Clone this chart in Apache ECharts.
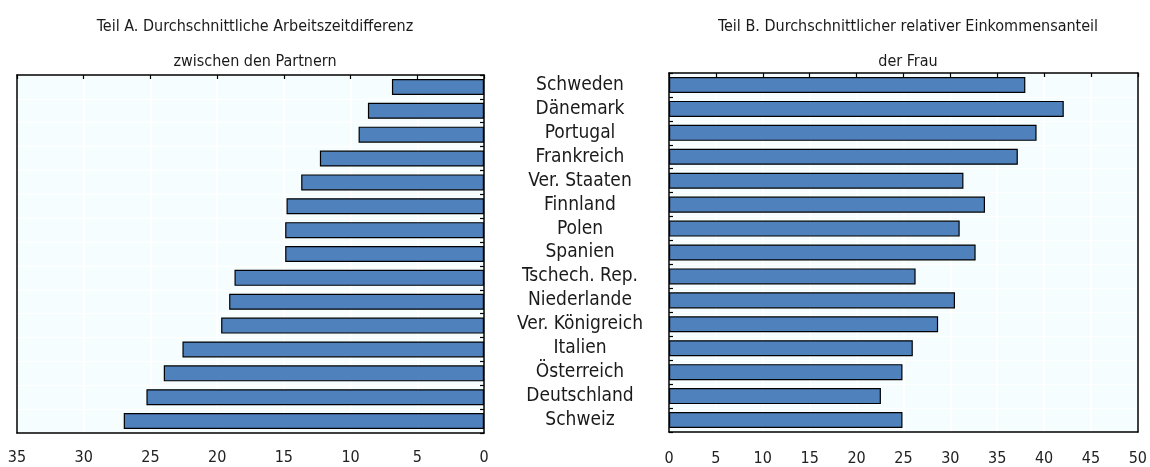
<!DOCTYPE html>
<html>
<head>
<meta charset="utf-8">
<script src="https://cdn.jsdelivr.net/npm/echarts@6/dist/echarts.min.js"></script>
<style>
    html, body { margin: 0; padding: 0; background: #fff; }
    #chart { width: 1150px; height: 467px; }
</style>
</head>
<body>
<div id="chart"></div>
<script>
    // Länder (von oben nach unten)
    const countries = ['Schweden', 'Dänemark', 'Portugal', 'Frankreich', 'Ver. Staaten', 'Finnland', 'Polen',
        'Spanien', 'Tschech. Rep.', 'Niederlande', 'Ver. Königreich', 'Italien', 'Österreich', 'Deutschland', 'Schweiz']
    // Teil A: Arbeitszeitdifferenz
    const workDiff = [6.9, 8.7, 9.4, 12.3, 13.7, 14.8, 14.9, 14.9, 18.7, 19.1, 19.7, 22.6, 24.0, 25.3, 27.0]
    // Teil B: relativer Einkommensanteil der Frau
    const incomeShare = [38.0, 42.1, 39.2, 37.2, 31.4, 33.7, 31.0, 32.7, 26.3, 30.5, 28.7, 26.0, 24.9, 22.6, 24.9]

    const titleA = 'Teil A. Durchschnittliche Arbeitszeitdifferenz\nzwischen den Partnern'
    const titleB = 'Teil B. Durchschnittlicher relativer Einkommensanteil\nder Frau'

    const font = "'Liberation Sans Narrow', 'DejaVu Sans Condensed', 'Liberation Sans', sans-serif"
    const barColor = '#4F81BD'
    const plotBg = '#F5FDFF'
    const frame = { show: true, onZero: false, lineStyle: { color: '#000', width: 1.5 } }

    const chart = echarts.init(document.getElementById('chart'))

    // gemeinsame Balken-Optik
    function barSeries (idx, data) {
        return {
            type: 'bar',
            xAxisIndex: idx * 2,
            yAxisIndex: idx * 2,
            data: data,
            barWidth: '67%',
            itemStyle: { color: barColor, borderColor: '#000', borderWidth: 1.2 },
            silent: true
        }
    }

    function valueAxes (gridIndex, max, inverse, margin) {
        return [
            {
                type: 'value', gridIndex: gridIndex, min: 0, max: max, interval: 5, inverse: inverse,
                position: 'bottom',
                axisLine: frame,
                axisTick: { show: false },
                axisLabel: { color: '#222', fontSize: 16, fontFamily: font, margin: margin },
                splitLine: { show: true, lineStyle: { color: '#fff', width: 2 } }
            },
            {
                type: 'value', gridIndex: gridIndex, min: 0, max: max, interval: 5, inverse: inverse,
                position: 'top',
                axisLine: frame,
                axisTick: { show: true, inside: true, length: 4, lineStyle: { color: '#000', width: 1.2 } },
                axisLabel: { show: false },
                splitLine: { show: false }
            }
        ]
    }

    function categoryAxes (gridIndex, side, other, labels) {
        return [
            {
                type: 'category', gridIndex: gridIndex, data: countries, inverse: true, position: side,
                axisLine: frame,
                axisTick: { show: true, inside: true, length: 4, lineStyle: { color: '#000', width: 1.2 } },
                axisLabel: labels,
                splitLine: { show: true, lineStyle: { color: '#fff', width: 1 } }
            },
            {
                type: 'category', gridIndex: gridIndex, data: countries, inverse: true, position: other,
                axisLine: frame,
                axisTick: { show: false },
                axisLabel: { show: false },
                splitLine: { show: false }
            }
        ]
    }

    chart.setOption({
        animation: false,
        title: [
            {
                text: titleA, left: 250, top: 4, textAlign: 'center',
                textStyle: { fontSize: 16, fontWeight: 'normal', color: '#1a1a1a', fontFamily: font, lineHeight: 35 }
            },
            {
                text: titleB, left: 903, top: 4, textAlign: 'center',
                textStyle: { fontSize: 16, fontWeight: 'normal', color: '#1a1a1a', fontFamily: font, lineHeight: 35 }
            }
        ],
        grid: [
            { left: 17, right: 666, top: 75, bottom: 34, show: true, borderWidth: 0, backgroundColor: plotBg },
            { left: 669, right: 11, top: 73, bottom: 31, show: true, borderWidth: 0, backgroundColor: plotBg }
        ],
        xAxis: valueAxes(0, 35, true, 17).concat(valueAxes(1, 50, false, 19)),
        yAxis: categoryAxes(0, 'right', 'left', { show: false }).concat(
            categoryAxes(1, 'left', 'right', {
                color: '#1a1a1a', fontSize: 19, fontFamily: font, align: 'center', margin: 89, interval: 0,
                padding: [6, 0, 0, 0]
            })
        ),
        series: [
            barSeries(0, workDiff),
            barSeries(1, incomeShare)
        ]
    })
</script>
</body>
</html>
